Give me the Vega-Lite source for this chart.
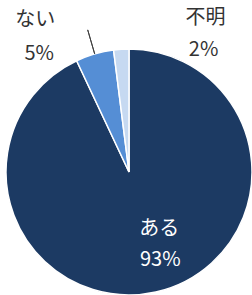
{
  "$schema": "https://vega.github.io/schema/vega-lite/v6.json",
  "width": 246,
  "height": 246,
  "autosize": "none",
  "padding": {"left": 6, "top": 49, "right": 0, "bottom": 0},
  "background": "white",
  "config": {"view": {"stroke": null}, "text": {"font": "Noto Sans CJK JP", "fontSize": 20}},
  "data": {
    "values": [
      {"category": "ある", "value": 0.93},
      {"category": "ない", "value": 0.05},
      {"category": "不明", "value": 0.02}
    ]
  },
  "encoding": {
    "theta": {"field": "value", "type": "quantitative", "stack": true},
    "order": {"field": "value", "type": "quantitative", "sort": "descending"}
  },
  "layer": [
    {
      "mark": {"type": "arc", "radius": 123, "stroke": "white", "strokeWidth": 1.5},
      "encoding": {
        "color": {
          "field": "category",
          "type": "nominal",
          "scale": {"domain": ["ある", "ない", "不明"], "range": ["#1c3a63", "#558ed5", "#c6d9f1"]},
          "legend": null
        }
      }
    },
    {
      "mark": {"type": "arc", "radius": 148, "radius2": 123, "padAngle": 3, "stroke": "#404040", "strokeWidth": 1, "fillOpacity": 0},
      "encoding": {
        "detail": {"field": "category"},
        "strokeOpacity": {"condition": {"test": "datum.category === 'ない'", "value": 1}, "value": 0}
      }
    },
    {
      "mark": {"type": "text", "radius": 70, "dx": 15, "dy": -11, "color": "white"},
      "encoding": {
        "detail": {"field": "category"},
        "text": {"condition": {"test": "datum.category === 'ある'", "field": "category"}, "value": ""}
      }
    },
    {
      "mark": {"type": "text", "radius": 70, "dx": 16, "dy": 20, "color": "white"},
      "encoding": {
        "detail": {"field": "category"},
        "text": {"condition": {"test": "datum.category === 'ある'", "field": "value", "format": ".0%"}, "value": ""}
      }
    },
    {
      "mark": {"type": "text", "radius": 150, "dx": -52, "dy": -8, "color": "#333333"},
      "encoding": {
        "detail": {"field": "category"},
        "text": {"condition": {"test": "datum.category === 'ない'", "field": "category"}, "value": ""}
      }
    },
    {
      "mark": {"type": "text", "radius": 150, "dx": -48, "dy": 26, "color": "#333333"},
      "encoding": {
        "detail": {"field": "category"},
        "text": {"condition": {"test": "datum.category === 'ない'", "field": "value", "format": ".0%"}, "value": ""}
      }
    },
    {
      "mark": {"type": "text", "radius": 150, "dx": 86, "dy": -4, "color": "#333333"},
      "encoding": {
        "detail": {"field": "category"},
        "text": {"condition": {"test": "datum.category === '不明'", "field": "category"}, "value": ""}
      }
    },
    {
      "mark": {"type": "text", "radius": 150, "dx": 84, "dy": 28, "color": "#333333"},
      "encoding": {
        "detail": {"field": "category"},
        "text": {"condition": {"test": "datum.category === '不明'", "field": "value", "format": ".0%"}, "value": ""}
      }
    }
  ]
}
